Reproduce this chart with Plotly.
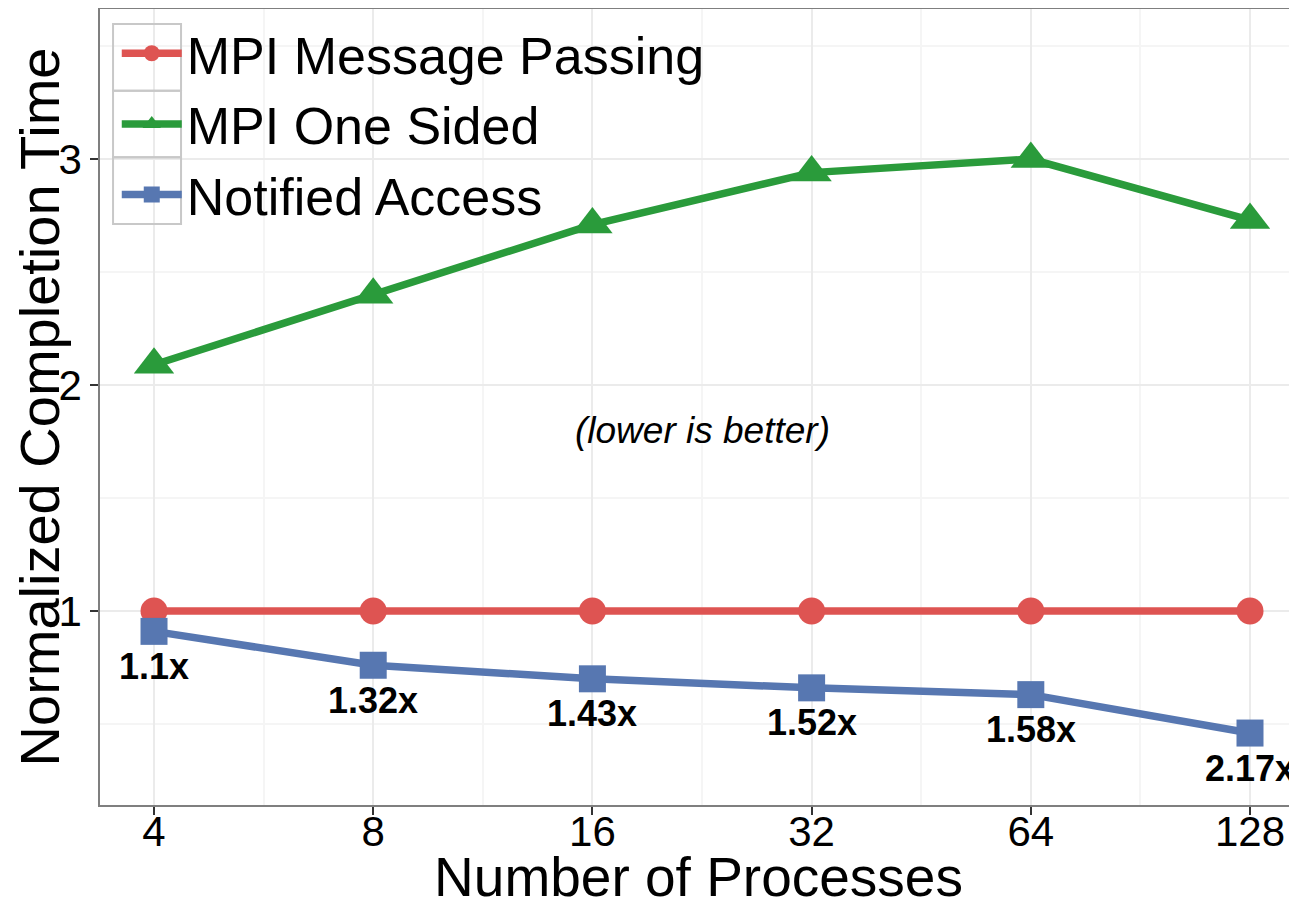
import math
import plotly.graph_objects as go

# Normalized completion time vs number of processes
procs = [4, 8, 16, 32, 64, 128]
proc_labels = ["4", "8", "16", "32", "64", "128"]
msg_passing = [1.0, 1.0, 1.0, 1.0, 1.0, 1.0]
one_sided = [2.09, 2.40, 2.71, 2.94, 3.00, 2.73]
notified = [0.91, 0.76, 0.70, 0.66, 0.63, 0.46]
speedups = ["1.1x", "1.32x", "1.43x", "1.52x", "1.58x", "2.17x"]
yticks = [1, 2, 3]

RED = "#DE5452"
GREEN = "#2A9B3B"
BLUE = "#5777B1"
FONT = "Liberation Sans, Arial, sans-serif"

fig = go.Figure()
fig.add_trace(go.Scatter(x=procs, y=msg_passing, name="MPI Message Passing",
                         mode="lines+markers",
                         line=dict(color=RED, width=7.5),
                         marker=dict(symbol="circle", size=27, color=RED)))
fig.add_trace(go.Scatter(x=procs, y=one_sided, name="MPI One Sided",
                         mode="lines+markers",
                         line=dict(color=GREEN, width=7.5),
                         marker=dict(symbol="triangle-up", size=35, color=GREEN)))
fig.add_trace(go.Scatter(x=procs, y=notified, name="Notified Access",
                         mode="lines+markers",
                         line=dict(color=BLUE, width=7.5),
                         marker=dict(symbol="square", size=27, color=BLUE)))

# speedup labels under the notified access points
for xv, yv, txt in zip(procs, notified, speedups):
    fig.add_annotation(x=math.log10(xv), y=yv, text="<b>" + txt + "</b>",
                       showarrow=False, yshift=-35,
                       font=dict(size=36, color="black", family=FONT))

fig.add_annotation(x=math.log10(math.sqrt(16 * 32)), y=1.8,
                   text="<i>(lower is better)</i>", showarrow=False,
                   font=dict(size=37, color="black", family=FONT))

# white panel behind the legend (hides the grid) and grey key borders
fig.add_shape(type="rect", xref="paper", yref="paper",
              x0=0.0109, x1=0.535, y0=0.7299, y1=0.981,
              fillcolor="white", line=dict(width=0), layer="between")
key_top = 0.981
key_h = 0.0837
for i in range(3):
    fig.add_shape(type="rect", xref="paper", yref="paper",
                  x0=0.0109, x1=0.0677,
                  y0=key_top - (i + 1) * key_h, y1=key_top - i * key_h,
                  line=dict(color="#C8C8C8", width=2), layer="above")

lo = math.log10(4) - 0.2464 * math.log10(2)
hi = math.log10(4) + 5.2144 * math.log10(2)
minor_x = [math.sqrt(a * b) for a, b in zip(procs[:-1], procs[1:])] + [128 * math.sqrt(2)]

# the page body adds an 8px offset, margins compensate for it
fig.update_layout(
    width=1297, height=900,
    margin=dict(l=92, r=8, t=1, b=103),
    paper_bgcolor="white", plot_bgcolor="white",
    font=dict(family=FONT, color="black"),
    showlegend=True,
    legend=dict(x=0.014, y=0.995, xanchor="left", yanchor="top",
                bgcolor="rgba(0,0,0,0)", borderwidth=0,
                font=dict(size=52, color="black", family=FONT),
                itemwidth=60, tracegroupgap=0),
    xaxis=dict(type="log", range=[lo, hi], automargin=False,
               tickvals=procs, ticktext=proc_labels,
               tickfont=dict(size=42, color="black"),
               ticks="outside", ticklen=8, tickcolor="#333333", tickwidth=2,
               ticklabelstandoff=-19,
               showgrid=True, gridcolor="#EBEBEB", gridwidth=1.5,
               minor=dict(tickvals=minor_x, showgrid=True, gridcolor="#F5F5F5", ticks=""),
               showline=True, linecolor="#7F7F7F", linewidth=1.5, mirror=True,
               zeroline=False,
               title=dict(text="Number of Processes", font=dict(size=55, color="black"),
                          standoff=8)),
    yaxis=dict(range=[0.1416, 3.664], automargin=False,
               tickvals=yticks, ticktext=[str(v) for v in yticks],
               tickfont=dict(size=42, color="black"),
               ticks="outside", ticklen=8, tickcolor="#333333", tickwidth=2,
               showgrid=True, gridcolor="#EBEBEB", gridwidth=1.5,
               minor=dict(tickvals=[0.5, 1.5, 2.5, 3.5], showgrid=True, gridcolor="#F5F5F5", ticks=""),
               showline=True, linecolor="#7F7F7F", linewidth=1.5, mirror=False,
               zeroline=False,
               title=dict(text="Normalized Completion Time", font=dict(size=56, color="black"),
                          standoff=4)),
)

fig.write_html("out.html")
